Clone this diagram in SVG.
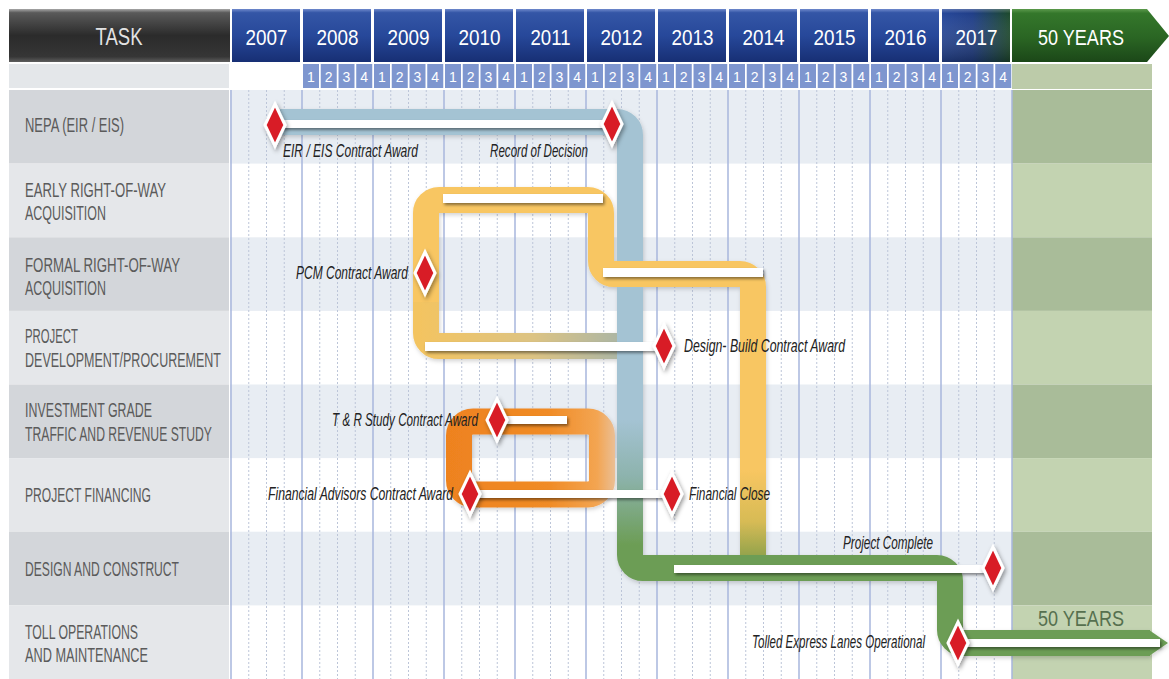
<svg xmlns="http://www.w3.org/2000/svg" width="1169" height="679" viewBox="0 0 1169 679">
<defs>
<style>
text{font-family:"Liberation Sans Narrow","Liberation Sans",Arial,sans-serif}
.hd{font-size:22px;fill:#fff;text-anchor:middle}
.q{font-size:14px;fill:#fff;text-anchor:middle}
.qc{fill:#7e96cf}
.lbl{font-size:19.5px;fill:#5b5b5b}
.ms{font-size:17.5px;font-style:italic;fill:#222}
.bar{fill:#fff;filter:url(#sh)}
.dia{fill:#d81f27;stroke:#fff;stroke-width:3;stroke-linejoin:miter;filter:url(#sh2)}
.pipe{fill:none;stroke-width:26}
.rowL1{fill:#d3d6da}.rowL2{fill:#e5e7ea}
.rowC1{fill:#e8edf3}.rowF1{fill:#a9bc99}.rowF2{fill:#c3d3b1}
.yl{stroke:#a8b6dd;stroke-width:1.5;fill:none}
.ql{stroke:#bcc5d8;stroke-width:1;stroke-dasharray:2 2;fill:none}
</style>
<linearGradient id="gTask" x1="0" y1="0" x2="0" y2="1">
<stop offset="0" stop-color="#a8a8a8"/><stop offset="0.07" stop-color="#5a5a5a"/><stop offset="0.5" stop-color="#2b2b2b"/><stop offset="0.9" stop-color="#363636"/><stop offset="1" stop-color="#5e5e5e"/>
</linearGradient>
<linearGradient id="gYear" x1="0" y1="0" x2="0" y2="1">
<stop offset="0" stop-color="#6f89cc"/><stop offset="0.07" stop-color="#3456a6"/><stop offset="0.5" stop-color="#27489a"/><stop offset="1" stop-color="#172f74"/>
</linearGradient>
<linearGradient id="g2017" x1="0" y1="0" x2="1" y2="0">
<stop offset="0" stop-color="#27489a"/><stop offset="0.45" stop-color="#213f88"/><stop offset="1" stop-color="#1d4a2c"/>
</linearGradient>
<linearGradient id="gShade" x1="0" y1="0" x2="0" y2="1">
<stop offset="0" stop-color="#fff" stop-opacity="0.25"/><stop offset="0.08" stop-color="#fff" stop-opacity="0"/><stop offset="1" stop-color="#000" stop-opacity="0.3"/>
</linearGradient>
<linearGradient id="gFifty" x1="0" y1="0" x2="0" y2="1">
<stop offset="0" stop-color="#5c9a4c"/><stop offset="0.08" stop-color="#34772b"/><stop offset="0.55" stop-color="#2a6523"/><stop offset="1" stop-color="#1b4718"/>
</linearGradient>
<linearGradient id="gBG" gradientUnits="userSpaceOnUse" x1="0" y1="420" x2="0" y2="545">
<stop offset="0" stop-color="#a4c3d3"/><stop offset="0.45" stop-color="#8db3ad"/><stop offset="1" stop-color="#6c9d55"/>
</linearGradient>
<linearGradient id="gYel" gradientUnits="userSpaceOnUse" x1="0" y1="470" x2="0" y2="556">
<stop offset="0" stop-color="#f8c662"/><stop offset="0.6" stop-color="#d7bb55"/><stop offset="1" stop-color="#93a34c"/>
</linearGradient>
<linearGradient id="gYelB" gradientUnits="userSpaceOnUse" x1="420" y1="0" x2="625" y2="0">
<stop offset="0" stop-color="#f3c461"/><stop offset="0.55" stop-color="#dcc383"/><stop offset="1" stop-color="#a9b5a6"/>
</linearGradient>
<linearGradient id="gOr" gradientUnits="userSpaceOnUse" x1="445" y1="0" x2="618" y2="0">
<stop offset="0" stop-color="#ee821f"/><stop offset="0.6" stop-color="#f08b25"/><stop offset="0.88" stop-color="#f3a552"/><stop offset="1" stop-color="#e9c3a0"/>
</linearGradient>
<filter id="sh" x="-10%" y="-80%" width="120%" height="300%"><feDropShadow dx="1.5" dy="2" stdDeviation="1.5" flood-color="#000" flood-opacity="0.45"/></filter>
<filter id="sh2" x="-60%" y="-30%" width="220%" height="170%"><feDropShadow dx="1.5" dy="2.5" stdDeviation="2" flood-color="#000" flood-opacity="0.4"/></filter>
<filter id="sh3" x="-10%" y="-10%" width="120%" height="120%"><feDropShadow dx="1" dy="2" stdDeviation="2" flood-color="#000" flood-opacity="0.18"/></filter>
<polygon id="dia" points="0,-21 10,0 0,21 -10,0"/>
</defs>

<!-- header -->
<g id="header">
<rect x="9" y="9" width="221" height="53" fill="url(#gTask)"/>
<text x="119" y="45" font-size="23" fill="#e2e2e2" text-anchor="middle" textLength="47" lengthAdjust="spacingAndGlyphs">TASK</text>
<g fill="url(#gYear)">
<rect x="232" y="9" width="68" height="53"/><rect x="303" y="9" width="68" height="53"/><rect x="374" y="9" width="68" height="53"/><rect x="445" y="9" width="68" height="53"/><rect x="516" y="9" width="68" height="53"/><rect x="587" y="9" width="68" height="53"/><rect x="658" y="9" width="68" height="53"/><rect x="729" y="9" width="68" height="53"/><rect x="800" y="9" width="68" height="53"/><rect x="871" y="9" width="68" height="53"/>
</g>
<rect x="942" y="9" width="68" height="53" fill="url(#g2017)"/>
<rect x="942" y="9" width="68" height="53" fill="url(#gShade)"/>
<polygon points="1012,9 1147,9 1169,36 1147,62 1012,62" fill="url(#gFifty)"/>
<g class="hd">
<text x="266.5" y="45" textLength="42" lengthAdjust="spacingAndGlyphs">2007</text>
<text x="337.5" y="45" textLength="42" lengthAdjust="spacingAndGlyphs">2008</text>
<text x="408.5" y="45" textLength="42" lengthAdjust="spacingAndGlyphs">2009</text>
<text x="479.5" y="45" textLength="42" lengthAdjust="spacingAndGlyphs">2010</text>
<text x="550.5" y="45" textLength="40" lengthAdjust="spacingAndGlyphs">2011</text>
<text x="621.5" y="45" textLength="42" lengthAdjust="spacingAndGlyphs">2012</text>
<text x="692.5" y="45" textLength="42" lengthAdjust="spacingAndGlyphs">2013</text>
<text x="763.5" y="45" textLength="42" lengthAdjust="spacingAndGlyphs">2014</text>
<text x="834.5" y="45" textLength="42" lengthAdjust="spacingAndGlyphs">2015</text>
<text x="905.5" y="45" textLength="42" lengthAdjust="spacingAndGlyphs">2016</text>
<text x="976.5" y="45" textLength="42" lengthAdjust="spacingAndGlyphs">2017</text>
<text x="1081" y="45" textLength="86" lengthAdjust="spacingAndGlyphs">50 YEARS</text>
</g>
<!-- quarter row -->
<rect x="9" y="64" width="220" height="24" fill="#e4e7ea"/>
<rect x="1012" y="64" width="140" height="25" fill="#bccba9"/>
<g class="qc">
<rect x="303" y="64" width="16" height="24"/><rect x="320.75" y="64" width="16" height="24"/><rect x="338.5" y="64" width="16" height="24"/><rect x="356.25" y="64" width="16" height="24"/>
<rect x="374" y="64" width="16" height="24"/><rect x="391.75" y="64" width="16" height="24"/><rect x="409.5" y="64" width="16" height="24"/><rect x="427.25" y="64" width="16" height="24"/>
<rect x="445" y="64" width="16" height="24"/><rect x="462.75" y="64" width="16" height="24"/><rect x="480.5" y="64" width="16" height="24"/><rect x="498.25" y="64" width="16" height="24"/>
<rect x="516" y="64" width="16" height="24"/><rect x="533.75" y="64" width="16" height="24"/><rect x="551.5" y="64" width="16" height="24"/><rect x="569.25" y="64" width="16" height="24"/>
<rect x="587" y="64" width="16" height="24"/><rect x="604.75" y="64" width="16" height="24"/><rect x="622.5" y="64" width="16" height="24"/><rect x="640.25" y="64" width="16" height="24"/>
<rect x="658" y="64" width="16" height="24"/><rect x="675.75" y="64" width="16" height="24"/><rect x="693.5" y="64" width="16" height="24"/><rect x="711.25" y="64" width="16" height="24"/>
<rect x="729" y="64" width="16" height="24"/><rect x="746.75" y="64" width="16" height="24"/><rect x="764.5" y="64" width="16" height="24"/><rect x="782.25" y="64" width="16" height="24"/>
<rect x="800" y="64" width="16" height="24"/><rect x="817.75" y="64" width="16" height="24"/><rect x="835.5" y="64" width="16" height="24"/><rect x="853.25" y="64" width="16" height="24"/>
<rect x="871" y="64" width="16" height="24"/><rect x="888.75" y="64" width="16" height="24"/><rect x="906.5" y="64" width="16" height="24"/><rect x="924.25" y="64" width="16" height="24"/>
<rect x="942" y="64" width="16" height="24"/><rect x="959.75" y="64" width="16" height="24"/><rect x="977.5" y="64" width="16" height="24"/><rect x="995.25" y="64" width="16" height="24"/>
</g>
<g class="q">
<text x="311" y="82">1</text><text x="328.75" y="82">2</text><text x="346.5" y="82">3</text><text x="364.25" y="82">4</text>
<text x="382" y="82">1</text><text x="399.75" y="82">2</text><text x="417.5" y="82">3</text><text x="435.25" y="82">4</text>
<text x="453" y="82">1</text><text x="470.75" y="82">2</text><text x="488.5" y="82">3</text><text x="506.25" y="82">4</text>
<text x="524" y="82">1</text><text x="541.75" y="82">2</text><text x="559.5" y="82">3</text><text x="577.25" y="82">4</text>
<text x="595" y="82">1</text><text x="612.75" y="82">2</text><text x="630.5" y="82">3</text><text x="648.25" y="82">4</text>
<text x="666" y="82">1</text><text x="683.75" y="82">2</text><text x="701.5" y="82">3</text><text x="719.25" y="82">4</text>
<text x="737" y="82">1</text><text x="754.75" y="82">2</text><text x="772.5" y="82">3</text><text x="790.25" y="82">4</text>
<text x="808" y="82">1</text><text x="825.75" y="82">2</text><text x="843.5" y="82">3</text><text x="861.25" y="82">4</text>
<text x="879" y="82">1</text><text x="896.75" y="82">2</text><text x="914.5" y="82">3</text><text x="932.25" y="82">4</text>
<text x="950" y="82">1</text><text x="967.75" y="82">2</text><text x="985.5" y="82">3</text><text x="1003.25" y="82">4</text>
</g>
</g>

<!-- row backgrounds -->
<g id="rows">
<rect class="rowL1" x="9" y="90" width="220" height="73.6"/>
<rect class="rowL2" x="9" y="163.6" width="220" height="73.7"/>
<rect class="rowL1" x="9" y="237.3" width="220" height="73.6"/>
<rect class="rowL2" x="9" y="310.9" width="220" height="73.6"/>
<rect class="rowL1" x="9" y="384.5" width="220" height="73.6"/>
<rect class="rowL2" x="9" y="458.1" width="220" height="73.6"/>
<rect class="rowL1" x="9" y="531.7" width="220" height="73.7"/>
<rect class="rowL2" x="9" y="605.4" width="220" height="73.6"/>
<rect class="rowC1" x="230" y="90" width="782" height="73.6"/>
<rect class="rowC1" x="230" y="237.3" width="782" height="73.6"/>
<rect class="rowC1" x="230" y="384.5" width="782" height="73.6"/>
<rect class="rowC1" x="230" y="531.7" width="782" height="73.7"/>
<rect class="rowF1" x="1012" y="90" width="140" height="73.6"/>
<rect class="rowF2" x="1012" y="163.6" width="140" height="73.7"/>
<rect class="rowF1" x="1012" y="237.3" width="140" height="73.6"/>
<rect class="rowF2" x="1012" y="310.9" width="140" height="73.6"/>
<rect class="rowF1" x="1012" y="384.5" width="140" height="73.6"/>
<rect class="rowF2" x="1012" y="458.1" width="140" height="73.6"/>
<rect class="rowF1" x="1012" y="531.7" width="140" height="73.7"/>
<rect class="rowF2" x="1012" y="605.4" width="140" height="73.6"/>
</g>

<!-- grid -->
<g id="grid">
<path class="ql" d="M248.75 90V679M266.5 90V679M284.25 90V679M319.75 90V679M337.5 90V679M355.25 90V679M390.75 90V679M408.5 90V679M426.25 90V679M461.75 90V679M479.5 90V679M497.25 90V679M532.75 90V679M550.5 90V679M568.25 90V679M603.75 90V679M621.5 90V679M639.25 90V679M674.75 90V679M692.5 90V679M710.25 90V679M745.75 90V679M763.5 90V679M781.25 90V679M816.75 90V679M834.5 90V679M852.25 90V679M887.75 90V679M905.5 90V679M923.25 90V679M958.75 90V679M976.5 90V679M994.25 90V679"/>
<path class="yl" d="M231 90V679M302 90V679M373 90V679M444 90V679M515 90V679M586 90V679M657 90V679M728 90V679M799 90V679M870 90V679M941 90V679M1012 90V679"/>
</g>

<!-- task labels -->
<g id="task-nepa"><text class="lbl" x="25" y="132" textLength="99" lengthAdjust="spacingAndGlyphs">NEPA (EIR / EIS)</text></g>
<g id="task-early-row"><text class="lbl" x="25" y="197" textLength="141" lengthAdjust="spacingAndGlyphs">EARLY RIGHT-OF-WAY</text><text class="lbl" x="25" y="220" textLength="81" lengthAdjust="spacingAndGlyphs">ACQUISITION</text></g>
<g id="task-formal-row"><text class="lbl" x="25" y="272" textLength="155" lengthAdjust="spacingAndGlyphs">FORMAL RIGHT-OF-WAY</text><text class="lbl" x="25" y="295" textLength="81" lengthAdjust="spacingAndGlyphs">ACQUISITION</text></g>
<g id="task-project-dev"><text class="lbl" x="25" y="343" textLength="53" lengthAdjust="spacingAndGlyphs">PROJECT</text><text class="lbl" x="25" y="367" textLength="196" lengthAdjust="spacingAndGlyphs">DEVELOPMENT/PROCUREMENT</text></g>
<g id="task-investment"><text class="lbl" x="25" y="417" textLength="127" lengthAdjust="spacingAndGlyphs">INVESTMENT GRADE</text><text class="lbl" x="25" y="441" textLength="187" lengthAdjust="spacingAndGlyphs">TRAFFIC AND REVENUE STUDY</text></g>
<g id="task-financing"><text class="lbl" x="25" y="502" textLength="126" lengthAdjust="spacingAndGlyphs">PROJECT FINANCING</text></g>
<g id="task-design"><text class="lbl" x="25" y="576" textLength="154" lengthAdjust="spacingAndGlyphs">DESIGN AND CONSTRUCT</text></g>
<g id="task-toll"><text class="lbl" x="25" y="639" textLength="113" lengthAdjust="spacingAndGlyphs">TOLL OPERATIONS</text><text class="lbl" x="25" y="662" textLength="123" lengthAdjust="spacingAndGlyphs">AND MAINTENANCE</text></g>

<!-- connectors (pipes) -->
<g id="connectors" filter="url(#sh3)">
<path class="pipe" stroke="url(#gYelB)" d="M426 300V333A13 13 0 0 0 439 346H622"/>
<rect x="459" y="421.5" width="143" height="73" rx="14" class="pipe" stroke="url(#gOr)" stroke-width="27"/>
<path class="pipe" stroke="url(#gBG)" d="M280 122H617A13 13 0 0 1 630 135V555A13 13 0 0 0 643 568H937A13 13 0 0 1 950 581V630A13 13 0 0 0 963 643H1150"/>
<polygon points="1149,630 1168,643 1149,656" fill="#6c9d55"/>
<path class="pipe" stroke="url(#gYel)" d="M426 302V213A13 13 0 0 1 439 200H588A13 13 0 0 1 601 213V261A13 13 0 0 0 614 274H740A13 13 0 0 1 753 287V555"/>
</g>

<!-- activity bars -->
<g id="bars">
<rect class="bar" x="280" y="120" width="332" height="8"/>
<rect class="bar" x="443" y="194" width="160" height="9"/>
<rect class="bar" x="603" y="268" width="160" height="9"/>
<rect class="bar" x="425" y="342" width="238" height="9"/>
<rect class="bar" x="497" y="416" width="70" height="8"/>
<rect class="bar" x="468" y="490" width="204" height="8"/>
<rect class="bar" x="674" y="565" width="311" height="8"/>
<rect class="bar" x="958" y="639" width="202" height="8"/>
</g>

<!-- milestones -->
<g id="ms-eir-award"><use href="#dia" class="dia" x="275" y="125"/><text class="ms" x="283" y="157" textLength="135" lengthAdjust="spacingAndGlyphs">EIR / EIS Contract Award</text></g>
<g id="ms-record-decision"><use href="#dia" class="dia" x="612" y="124"/><text class="ms" x="490" y="157" textLength="98" lengthAdjust="spacingAndGlyphs">Record of Decision</text></g>
<g id="ms-pcm-award"><use href="#dia" class="dia" x="425" y="273"/><text class="ms" x="296" y="279" textLength="112" lengthAdjust="spacingAndGlyphs">PCM Contract Award</text></g>
<g id="ms-design-build"><use href="#dia" class="dia" x="664" y="346"/><text class="ms" x="684" y="352" textLength="161" lengthAdjust="spacingAndGlyphs">Design- Build Contract Award</text></g>
<g id="ms-tr-study"><use href="#dia" class="dia" x="497" y="420"/><text class="ms" x="332" y="426" textLength="146" lengthAdjust="spacingAndGlyphs">T &amp; R Study Contract Award</text></g>
<g id="ms-fin-advisors"><use href="#dia" class="dia" x="470" y="494"/><text class="ms" x="268" y="500" textLength="185" lengthAdjust="spacingAndGlyphs">Financial Advisors Contract Award</text></g>
<g id="ms-fin-close"><use href="#dia" class="dia" x="672" y="494"/><text class="ms" x="689" y="500" textLength="81" lengthAdjust="spacingAndGlyphs">Financial Close</text></g>
<g id="ms-project-complete"><use href="#dia" class="dia" x="993" y="568"/><text class="ms" x="843" y="549" textLength="90" lengthAdjust="spacingAndGlyphs">Project Complete</text></g>
<g id="ms-tolled-lanes"><use href="#dia" class="dia" x="958" y="643"/><text class="ms" x="752" y="648" textLength="173" lengthAdjust="spacingAndGlyphs">Tolled Express Lanes Operational</text></g>
<g id="fifty-years-label"><text x="1081" y="626" font-size="22" fill="#56704f" text-anchor="middle" textLength="86" lengthAdjust="spacingAndGlyphs">50 YEARS</text></g>
</svg>
